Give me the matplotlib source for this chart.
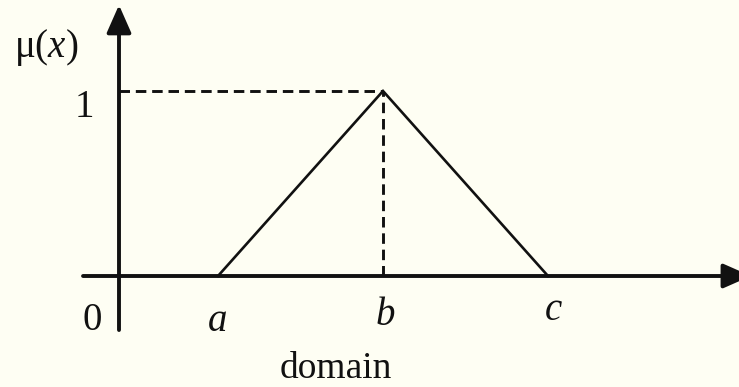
import matplotlib.pyplot as plt

# triangular membership function: mu(a)=0, mu(b)=1, mu(c)=0
pts = [3.0, 8.0, 13.0]
mu = [0.0, 1.0, 0.0]
pt_labels = ["a", "b", "c"]

plt.rcParams["mathtext.fontset"] = "custom"
plt.rcParams["mathtext.rm"] = "Liberation Serif"
plt.rcParams["mathtext.it"] = "Liberation Serif:italic"

fig = plt.figure(figsize=(7.39, 3.87), dpi=100)
fig.patch.set_facecolor("#fefef3")
ax = fig.add_axes([0, 0, 1, 1])
ax.set_facecolor("#fefef3")
ax.set_xlim(-119 / 33, 620 / 33)
ax.set_ylim(-111 / 185, 276 / 185)
ax.axis("off")

ink = "#111111"
head = dict(arrowstyle="-|>,head_length=1.7,head_width=0.75", mutation_scale=10,
            lw=2.8, color=ink, shrinkA=0, shrinkB=0)

# axes with arrows
ax.annotate("", xy=(19.15, 0), xytext=(-1.09, 0), arrowprops=head, annotation_clip=False)
ax.annotate("", xy=(0, 1.465), xytext=(0, -0.292), arrowprops=head, annotation_clip=False)

# triangle
ax.plot(pts, mu, color=ink, lw=1.9, solid_joinstyle="miter")

# dashed guides to the peak
b = pts[1]
dash = (0, (3.6, 2.0))
ax.plot([0, b], [1, 1], color=ink, lw=2.1, linestyle=dash)
ax.plot([b, b], [0, 1], color=ink, lw=2.1, linestyle=dash)

font = "Liberation Serif"
fs = 28
ax.text(-2.2, 1.184, r"$\mathrm{μ}(x)$", fontsize=fs, ha="center", va="baseline", color=ink)
ax.text(-1.06, 0.859, "1", fontsize=fs, family=font, ha="center", va="baseline", color=ink)
ax.text(-0.82, -0.292, "0", fontsize=fs, family=font, ha="center", va="baseline", color=ink)

offs = [(0.0, -0.297), (0.06, -0.265), (0.15, -0.238)]
for p, lab, (dx, dy) in zip(pts, pt_labels, offs):
    ax.text(p + dx, dy, lab, fontsize=fs, family=font, style="italic",
            ha="center", va="baseline", color=ink)

ax.text(6.58, -0.55, "domain", fontsize=27, family=font, ha="center", va="baseline", color=ink)

fig.savefig("out.png", dpi=100, facecolor=fig.get_facecolor())
